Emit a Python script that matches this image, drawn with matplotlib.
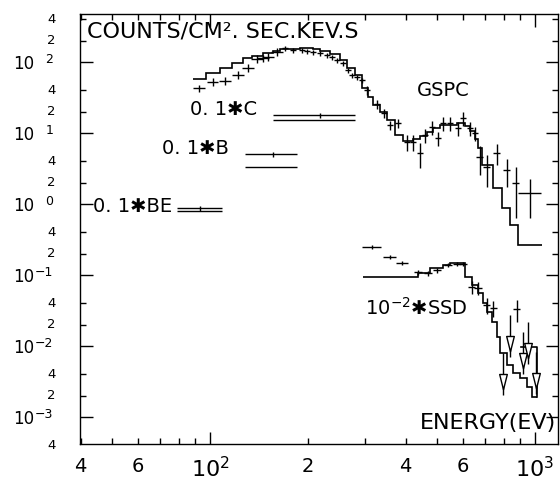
#!/usr/bin/env python3
import numpy as np
import matplotlib
matplotlib.use("Agg")
import matplotlib.pyplot as plt
from matplotlib.path import Path

# GSPC model histogram (bin edges in eV, counts/cm2.sec.keV.s)
gspc_edges = [88.6, 97.2, 107.4, 116.9, 126.3, 134.6, 145.6, 156.3, 164.2, 189.1,
              207.4, 217.9, 234, 251, 264, 279, 294, 306, 317, 333, 350, 371, 392,
              421, 443, 465, 485, 510, 575, 609, 631, 654, 668, 687, 743, 791, 837,
              887, 1051]
gspc_model = [57.6, 70, 82.3, 96.8, 114, 121.5, 134, 143, 152, 157, 152, 143, 130,
              106.7, 82.3, 65.6, 43, 32.1, 24.8, 19.8, 15.2, 9.37, 7.71, 8.23, 9.07,
              10.3, 11.75, 12.97, 13.8, 12.55, 10.67, 8.23, 6.15, 3.54, 1.68, 0.88,
              0.506, 0.265]

# GSPC measured points
gspc_e = [92.5, 102.1, 111.2, 121.9, 130.9, 139.5, 145.6, 150.8, 160.8, 170.1, 180.1,
          191.9, 198.8, 207.4, 218.0, 229.1, 237.3, 246, 256.5, 265.9, 273.5, 283.3,
          293.6, 304.1, 326.3, 343.0, 357.9, 378.8, 403.7, 421.3, 442.6, 458.7, 482,
          502.8, 521.2, 547.6, 579.6, 600, 631, 653.6, 677.2, 711.3, 763.6, 820, 874, 965]
gspc_f = [43.0, 52.3, 54.0, 65.6, 82.3, 110.2, 113.8, 117.6, 138.3, 157.4, 147.6,
          147.6, 142.9, 138.3, 133.9, 125.5, 117.6, 106.7, 96.8, 77.2, 65.6, 61.5,
          55.8, 40.3, 25.6, 19.1, 12.97, 13.83, 7.47, 7.47, 5.23, 9.37, 12.15, 8.5,
          13.83, 13.83, 11.75, 16.3, 11.75, 10.0, 4.59, 3.32, 5.23, 3.01, 1.98, 1.43]
gspc_rel_ferr = [0.12] * 9 + [0.08] * 14 + [0.15] * 5 + [0.25, 0.25, 0.38] + \
                [0.22] * 9 + [0.45, 0.48, 0.33, 0.43, 0.68, 0.55]
gspc_rel_eerr = [0.04] * 9 + [0.02] * 31 + [0.025] * 5 + [0.08]

# 0.1*C, 0.1*B, 0.1*BE filter points (eV range, measured, model)
filt_names = ["C", "B", "BE"]
filt_e = [218, 156.3, 93.2]
filt_elo = [156.3, 128.1, 79.1]
filt_ehi = [279, 185.2, 108.9]
filt_f = [17.9, 5.06, 0.879]
filt_model = [15.2, 3.32, 0.796]

# 10^-2 * SSD model histogram
ssd_edges = [295.6, 436.5, 475.4, 521, 547, 609, 640, 668, 692, 711, 737, 764, 780,
             820, 855, 899, 944, 979, 1014]
ssd_model = [0.0937, 0.1067, 0.1256, 0.1384, 0.1476, 0.0937, 0.0723, 0.0557, 0.0404,
             0.0301, 0.0218, 0.0134, 0.00796, 0.0054, 0.00417, 0.00354, 0.00265, 0.00191]
ssd_alt_e = [905, 1014, 1014]
ssd_alt_f = [0.00968, 0.00968, 0.00191]

# 10^-2 * SSD measured points
ssd_e = [314.9, 357.9, 389.8, 436.5, 468.8, 499, 539.7, 575.4, 600, 640, 668, 711, 743, 880]
ssd_f = [0.248, 0.179, 0.1476, 0.110, 0.1067, 0.1175, 0.1384, 0.1429, 0.1429, 0.0678,
         0.0656, 0.0378, 0.0343, 0.0332]
ssd_rel_ferr = [0.06, 0.06, 0.06, 0.08, 0.08, 0.08, 0.07, 0.07, 0.07, 0.2, 0.2, 0.25, 0.25, 0.35]
ssd_rel_eerr = [0.066, 0.045, 0.045, 0.03, 0.03, 0.03, 0.03, 0.03, 0.03, 0.025, 0.025,
                0.025, 0.025, 0.025]

# SSD upper limits
ssd_ul_e = [797, 837, 918, 951, 1006]
ssd_ul_f = [0.00796, 0.0274, 0.01574, 0.0218, 0.00822]

# axis labels
x_major = [100, 1000]
x_major_labels = [r"$\mathregular{10^2}$", r"$\mathregular{10^3}$"]
x_minor = [m * d for d in (10, 100) for m in range(2, 10)]
x_minor_labelled = {40: "4", 60: "6", 200: "2", 400: "4", 600: "6"}
y_decades = [-3, -2, -1, 0, 1, 2]
y_minor = [4e-4] + [m * 10.0 ** d for d in range(-3, 3) for m in (2, 4)]
y_minor_labels = ["4"] + ["2", "4"] * 6

fig = plt.figure(figsize=(5.6, 4.83), dpi=100)
ax = fig.add_axes([80 / 560, 39 / 483, 478 / 560, 430 / 483])
ax.set_xscale("log")
ax.set_yscale("log")

lw = 1.0
k = "black"

# models
ax.stairs(gspc_model, gspc_edges, color=k, lw=1.2, baseline=None)
ax.stairs(ssd_model, ssd_edges, color=k, lw=1.2, baseline=None)
ax.plot(ssd_alt_e, ssd_alt_f, color=k, lw=1.2)

# GSPC data
ge = np.array(gspc_e)
gf = np.array(gspc_f)
ax.errorbar(ge, gf, yerr=gf * np.array(gspc_rel_ferr), xerr=ge * np.array(gspc_rel_eerr),
            fmt="none", ecolor=k, elinewidth=lw, capsize=0)

# SSD data
se = np.array(ssd_e)
sf = np.array(ssd_f)
ax.errorbar(se, sf, yerr=sf * np.array(ssd_rel_ferr), xerr=se * np.array(ssd_rel_eerr),
            fmt="none", ecolor=k, elinewidth=lw, capsize=0)

# upper limits: line down and open elongated triangle
tri = Path([(-0.4, 0), (0.4, 0), (0, -1.6), (-0.4, 0)],
           [Path.MOVETO, Path.LINETO, Path.LINETO, Path.CLOSEPOLY])
for e, f in zip(ssd_ul_e, ssd_ul_f):
    ax.vlines(e, f * 0.256, f, color=k, lw=lw)
    ax.plot([e], [f * 0.5], marker=tri, ms=22, mfc="white", mec=k, mew=1.0)

# filter points
for e, lo, hi, f, m in zip(filt_e, filt_elo, filt_ehi, filt_f, filt_model):
    ax.errorbar([e], [f], xerr=[[e - lo], [hi - e]], yerr=[[f * 0.08], [f * 0.08]],
                fmt="none", ecolor=k, elinewidth=lw, capsize=0)
    ax.hlines(m, lo, hi, color=k, lw=lw)

# ticks
ax.tick_params(which="both", direction="in", top=True, right=True, colors=k)
ax.tick_params(which="major", length=9, width=1.0)
ax.tick_params(which="minor", length=4, width=1.0)
ax.set_xticks(x_major, x_major_labels, fontsize=16)
ax.set_xticks(x_minor, [x_minor_labelled.get(v, "") for v in x_minor], minor=True, fontsize=14)
ax.tick_params(axis="x", which="both", pad=9)
ax.set_yticks([10.0 ** d for d in y_decades], [""] * len(y_decades))
ax.set_yticks(y_minor, [""] * len(y_minor), minor=True)
ax.set_xlim(39.8, 1177)
ax.set_ylim(4.17e-4, 474)
for s in ax.spines.values():
    s.set_linewidth(1.0)

# y labels drawn by hand in the old plotter layout
ytr = ax.get_yaxis_transform()
for d in y_decades:
    ax.annotate("10", xy=(-0.118, 10.0 ** d), xycoords=ytr, xytext=(0, -1.5),
                textcoords="offset points", ha="center", va="center", fontsize=12)
    ax.annotate(str(d).replace("-", "\u2212"), xy=(-0.056, 10.0 ** d), xycoords=ytr,
                xytext=(0, 2), textcoords="offset points", ha="right", va="center",
                fontsize=9)
for v, t in zip(y_minor, y_minor_labels):
    ax.annotate(t, xy=(-0.06, v), xycoords=ytr, ha="center", va="center", fontsize=9.5,
                annotation_clip=False)

# text
ax.text(0.015, 0.96, "COUNTS/CM\u00b2. SEC.KEV.S", transform=ax.transAxes,
        fontsize=16, ha="left", va="center")
ax.text(433, 40.3, "GSPC", fontsize=14, ha="left", va="center")
ax.text(86.8, 21.1, "0. 1\u2731C", fontsize=14, ha="left", va="center")
ax.text(71.2, 6.14, "0. 1\u2731B", fontsize=14, ha="left", va="center")
ax.text(43.7, 0.93, "0. 1\u2731BE", fontsize=14, ha="left", va="center")
ax.text(300, 0.0343, r"$\mathregular{10^{-2}}$" + "\u2731SSD", fontsize=14,
        ha="left", va="center")
ax.text(0.711, 0.049, "ENERGY(EV)", transform=ax.transAxes, fontsize=16,
        ha="left", va="center")

fig.savefig("out.png", dpi=100)
